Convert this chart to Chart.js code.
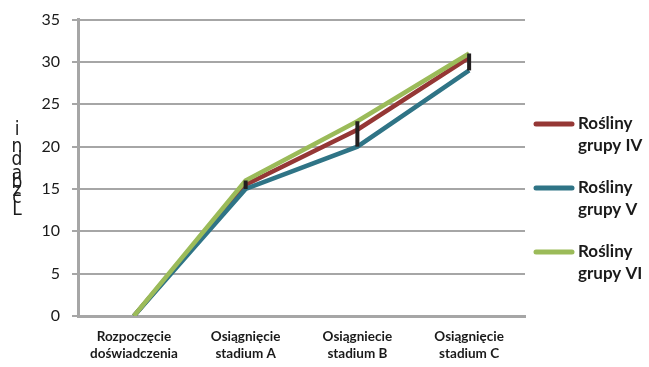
<!DOCTYPE html>
<html>
<head>
<meta charset="utf-8">
<script src="https://cdn.jsdelivr.net/npm/chart.js@4/dist/chart.umd.min.js"></script>
<style>
  html, body { margin: 0; padding: 0; background: #fff; overflow: hidden; }
  #wrap { width: 649px; height: 369px; position: relative; margin-top: -2px; }
</style>
</head>
<body>
<div id="wrap"><canvas id="chart"></canvas></div>
<script>
// Chart data
const categories = [
    ['Rozpoczęcie', 'doświadczenia'],
    ['Osiągnięcie', 'stadium A'],
    ['Osiągniecie', 'stadium B'],
    ['Osiągnięcie', 'stadium C']
];
const seriesNames = [['Rośliny', 'grupy IV'], ['Rośliny', 'grupy V'], ['Rośliny', 'grupy VI']];
const groupIV = [0, 15.5, 22, 30.5];
const groupV = [0, 15, 20, 29];
const groupVI = [0, 16, 23, 31];
const yTicks = [0, 5, 10, 15, 20, 25, 30, 35];
const axisTitle = 'Liczba dni';

const colors = ['#953735', '#2f7486', '#9bbb59'];
const FONT = 'Lato, "Open Sans", sans-serif';

// Black high-low lines between series at each category
const highLowPlugin = {
    id: 'highLow',
    afterDatasetsDraw(chart) {
        const ctx = chart.ctx;
        const x = chart.scales.x;
        const y = chart.scales.y;
        ctx.save();
        ctx.strokeStyle = '#231f20';
        ctx.lineWidth = 4;
        categories.forEach((c, i) => {
            const vals = chart.data.datasets.map(d => d.data[i]);
            const hi = Math.max(...vals);
            const lo = Math.min(...vals);
            if (hi === lo) return;
            ctx.beginPath();
            ctx.moveTo(x.getPixelForValue(i), y.getPixelForValue(hi));
            ctx.lineTo(x.getPixelForValue(i), y.getPixelForValue(lo));
            ctx.stroke();
        });
        ctx.restore();
    }
};

// Legend on the right with wrapped labels + odd stacked y title
const sideStuffPlugin = {
    id: 'sideStuff',
    afterDraw(chart) {
        const ctx = chart.ctx;
        ctx.save();
        const tops = [126, 190, 254];
        chart.data.datasets.forEach((ds, i) => {
            const yy = tops[i];
            ctx.strokeStyle = ds.borderColor;
            ctx.lineWidth = 5;
            ctx.lineCap = 'round';
            ctx.beginPath();
            ctx.moveTo(536, yy);
            ctx.lineTo(572, yy);
            ctx.stroke();
            ctx.fillStyle = '#1a1a1a';
            ctx.font = 'bold 17px ' + FONT;
            ctx.textBaseline = 'middle';
            ctx.textAlign = 'left';
            ctx.fillText(seriesNames[i][0], 578, yy);
            ctx.fillText(seriesNames[i][1], 578, yy + 22);
        });

        // y axis title, letters stacked upright and overlapping
        const letters = ['i', 'n', 'd', 'a', 'b', 'z', 'c', 'L'];
        const ys = [132, 149, 162, 176, 185, 193, 200, 212];
        ctx.font = '19px "DejaVu Sans Condensed", "DejaVu Sans", sans-serif';
        ctx.fillStyle = '#1a1a1a';
        ctx.textAlign = 'center';
        letters.forEach((ch, i) => ctx.fillText(ch, 17, ys[i]));
        ctx.restore();
    }
};

new Chart(document.getElementById('chart'), {
    type: 'line',
    data: {
        labels: categories,
        datasets: [
            { label: seriesNames[0].join(' '), data: groupIV, borderColor: colors[0], order: 3 },
            { label: seriesNames[1].join(' '), data: groupV, borderColor: colors[1], order: 2 },
            { label: seriesNames[2].join(' '), data: groupVI, borderColor: colors[2], order: 1 }
        ]
    },
    options: {
        responsive: true,
        maintainAspectRatio: false,
        animation: false,
        layout: { padding: { top: 2, right: 124, left: 20, bottom: 0 } },
        elements: {
            line: { borderWidth: 4.5, tension: 0, borderJoinStyle: 'miter' },
            point: { radius: 0, hoverRadius: 0 }
        },
        plugins: {
            legend: { display: false },
            tooltip: { enabled: false }
        },
        scales: {
            x: {
                offset: true,
                grid: { display: false, drawTicks: false },
                border: { color: '#a6a6a6', width: 3 },
                ticks: {
                    color: '#1a1a1a',
                    font: { family: FONT, size: 13.5, weight: 'bold' },
                    maxRotation: 0,
                    padding: 13
                },
                afterFit(scale) { scale.height = 51; }
            },
            y: {
                min: 0,
                max: 35,
                afterBuildTicks(scale) { scale.ticks = yTicks.map(v => ({ value: v })); },
                grid: { color: '#a6a6a6', lineWidth: 2, tickLength: 6 },
                border: { color: '#a6a6a6', width: 3 },
                ticks: {
                    color: '#1a1a1a',
                    font: { family: FONT, size: 16 },
                    padding: 12
                },
                afterFit(scale) { scale.width = 58; }
            }
        }
    },
    plugins: [highLowPlugin, sideStuffPlugin]
});
</script>
</body>
</html>
